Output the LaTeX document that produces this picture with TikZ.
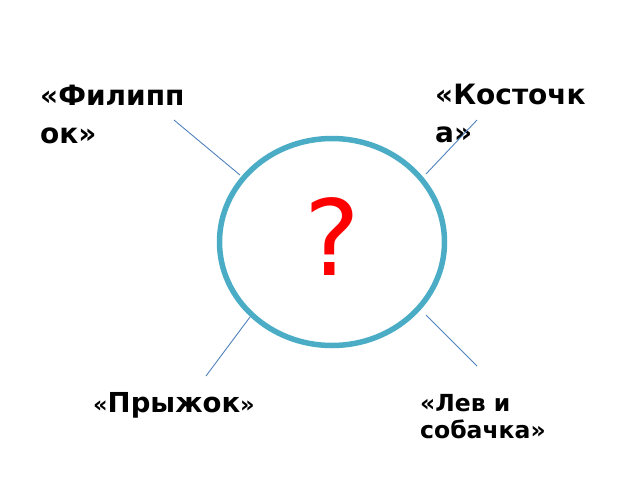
\documentclass[tikz,border=0pt]{standalone}
\usepackage{fontspec}
\setmainfont{DejaVu Sans}
\usetikzlibrary{shapes.geometric}
\definecolor{ringblue}{HTML}{4BACC6}
\definecolor{lineblue}{HTML}{4F81BD}

\begin{document}
\begin{tikzpicture}[
        x=1pt, y=-1pt,
        title/.style={anchor=base west, inner sep=0pt, align=left, font=\bfseries\fontsize{28}{38}\selectfont},
        story/.style={anchor=base west, inner sep=0pt, align=left, font=\bfseries\fontsize{23.5}{26.7}\selectfont},
        link/.style={draw=lineblue, line width=0.9pt},
        ring/.style={ellipse, draw=ringblue, line width=5.5pt, minimum width=225pt, minimum height=207pt, inner sep=0pt}
    ]
        \useasboundingbox (0,0) rectangle (640,480);

        % Circle
        \node[ring] (ring) at (332,242) {};
        \node[text=red, inner sep=0pt, font=\fontsize{105}{105}\selectfont] (quest) at (332,237) {?};

        % Labels (base = last line)
        \node[title] (filipok) at (40,143) {«Филипп\\ок»};
        \node[title] (kost) at (435,142) {«Косточк\\а»};
        \node[story, font=\bfseries\fontsize{27.5}{30}\selectfont] (pryzhok) at (93,412) {{\fontsize{22.5}{22.5}\selectfont«}Прыжок{\fontsize{22.5}{22.5}\selectfont»}};
        \node[story] (lev) at (420,438) {«Лев и\\собачка»};

        % Line ends
        \coordinate (fa) at (174,120);
        \coordinate (fb) at (240,175);
        \coordinate (ka) at (477,120);
        \coordinate (kb) at (426,174);
        \coordinate (pa) at (250,317);
        \coordinate (pb) at (206,376);
        \coordinate (la) at (426,315);
        \coordinate (lb) at (477,366);

        % Lines
        \draw[link] (fa) -- (fb);
        \draw[link] (ka) -- (kb);
        \draw[link] (pa) -- (pb);
        \draw[link] (la) -- (lb);
    \end{tikzpicture}
\end{document}
